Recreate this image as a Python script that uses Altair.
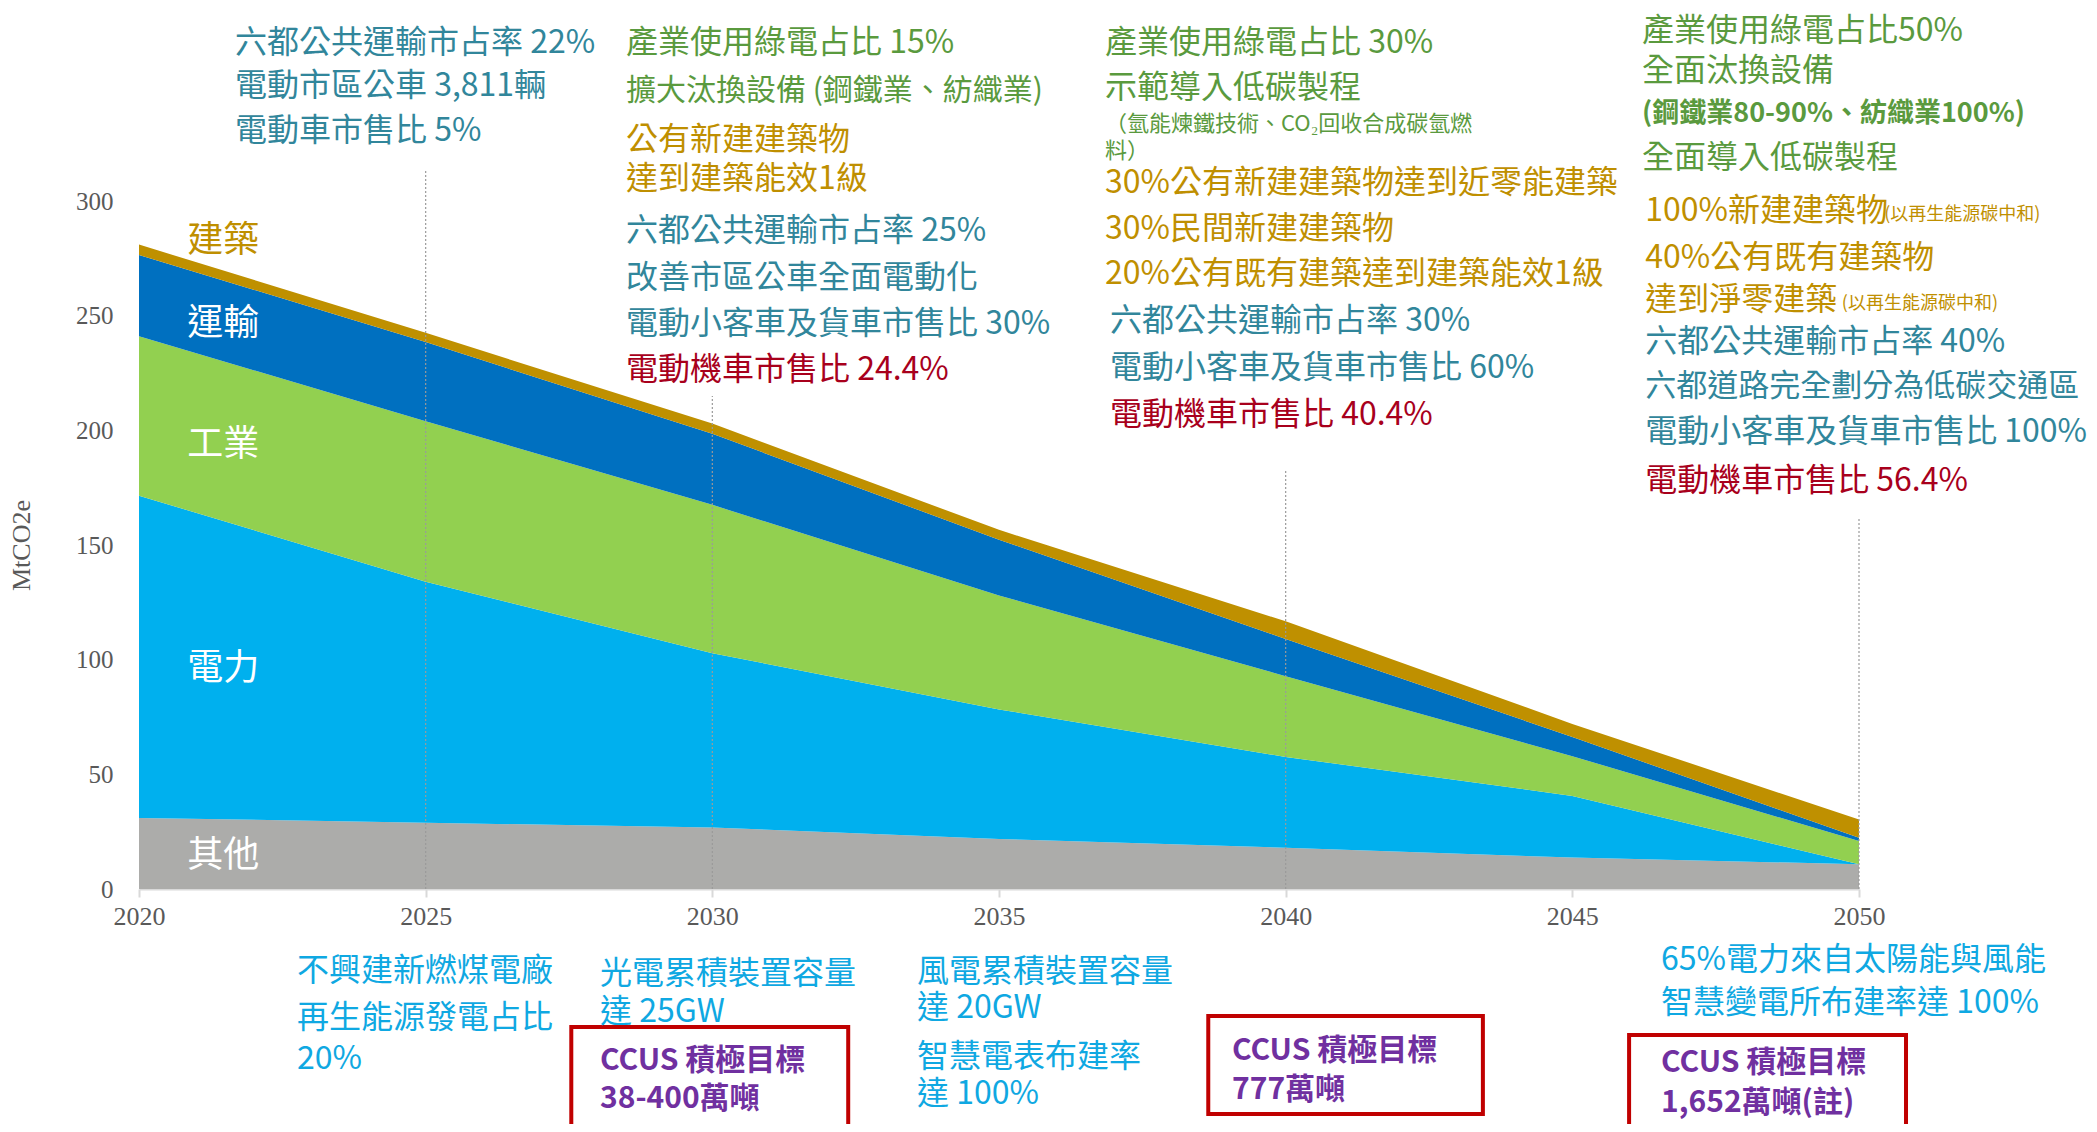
import altair as alt
import pandas as pd

# ---------------- data ----------------
years = [2020, 2025, 2030, 2035, 2040, 2045, 2050]
sectors = ["其他", "電力", "工業", "運輸", "建築"]
other = [31.0, 28.9, 26.8, 21.8, 18.0, 13.7, 10.8]
power = [140.5, 105.1, 76.0, 56.5, 39.6, 26.9, 0.0]
industry = [69.5, 70.0, 64.7, 49.7, 35.2, 17.3, 10.1]
transport = [35.5, 34.5, 31.0, 24.3, 16.2, 8.4, 1.4]
building = [4.5, 4.0, 4.5, 4.3, 7.7, 5.7, 8.0]
sector_colors = ["#ACACAA", "#00B0EE", "#92D050", "#0070C0", "#BF9000"]
y_ticks = [0, 50, 100, 150, 200, 250, 300]

# milestone guide lines (year, top value)
rule_years = [2025, 2030, 2040, 2050]
rule_tops = [313.5, 215.0, 182.3, 161.8]

series = {"其他": other, "電力": power, "工業": industry, "運輸": transport, "建築": building}
rows = []
for si, s in enumerate(sectors):
    for yr, v in zip(years, series[s]):
        rows.append({"year": yr, "sector": s, "value": v, "ord": si})
df = pd.DataFrame(rows)

CJK = "Noto Sans CJK TC"
SERIF = "Liberation Serif"
TEAL = "#31869B"
GREEN = "#5A9A3E"
GOLD = "#BF8F00"
RED = "#A8001C"
CYAN = "#0FA8E2"
PURPLE = "#7030A0"
GREYTXT = "#595959"

xs = alt.Scale(domain=[2020, 2050], nice=False, zero=False)
ys = alt.Scale(domain=[0, 300], nice=False, zero=True)

x_axis = alt.Axis(
    values=years, format="d", title=None, grid=False, labelFlush=False,
    domainColor="#D9D9D9", domainWidth=2, tickColor="#D9D9D9", tickWidth=2,
    tickSize=8, labelFont=SERIF, labelFontSize=26, labelColor=GREYTXT,
    labelPadding=6)
y_axis = alt.Axis(
    values=y_ticks, title="MtCO2e", grid=False, domain=False, ticks=False,
    labelFlush=False, labelFont=SERIF, labelFontSize=25, labelColor=GREYTXT,
    labelPadding=26, titleFont=SERIF, titleFontSize=26, titleFontWeight="normal",
    titleColor=GREYTXT, titleAngle=270, titleX=-118, titleY=344,
    titleAlign="center", titleBaseline="middle")

area = alt.Chart(df).mark_area(interpolate="linear").encode(
    x=alt.X("year:Q", scale=xs, axis=x_axis),
    y=alt.Y("value:Q", stack="zero", scale=ys, axis=y_axis),
    color=alt.Color("sector:N", scale=alt.Scale(domain=sectors, range=sector_colors), legend=None),
    order=alt.Order("ord:Q", sort="ascending"),
)

rules_df = pd.DataFrame({"x": rule_years, "y0": [0] * len(rule_years), "top": rule_tops})
rules = alt.Chart(rules_df).mark_rule(color="#9A9A9A", strokeDash=[2, 2], strokeWidth=1.2).encode(
    x=alt.X("x:Q", scale=xs, axis=x_axis),
    y=alt.Y("y0:Q", scale=ys, axis=y_axis),
    y2="top:Q",
)

# sector labels
lab_df = pd.DataFrame({
    "text": ["建築", "運輸", "工業", "電力", "其他"],
    "x": [2020.84] * 5,
    "y": [282.6, 246.4, 193.6, 95.9, 14.4],
    "color": [GOLD, "white", "white", "white", "white"],
})


def text_layer(items, size, weight="normal", font=CJK):
    d = pd.DataFrame(items, columns=["text", "x", "y", "color"])
    return alt.Chart(d).mark_text(align="left", baseline="middle", font=font,
                                  fontSize=size, fontWeight=weight).encode(
        x=alt.X("x:Q", scale=xs, axis=x_axis),
        y=alt.Y("y:Q", scale=ys, axis=y_axis),
        text="text:N",
        color=alt.Color("color:N", scale=None),
    )


labels = text_layer(lab_df.values.tolist(), 36)

# CCUS boxes
box_df = pd.DataFrame({
    "x": [2027.54, 2038.65, 2045.99],
    "x2": [2032.37, 2043.44, 2050.82],
    "y": [-60.2, -55.4, -63.7],
    "y2": [-103.8, -98.1, -108.1],
})
boxes = alt.Chart(box_df).mark_rect(filled=False, color="#C00000", strokeWidth=4).encode(
    x=alt.X("x:Q", scale=xs, axis=x_axis), x2="x2:Q",
    y=alt.Y("y:Q", scale=ys, axis=y_axis), y2="y2:Q",
)

main_txt = [
    ("六都公共運輸市占率 22%", 2021.674, 368.9, TEAL),
    ("電動市區公車 3,811輛", 2021.674, 350.1, TEAL),
    ("電動車市售比 5%", 2021.674, 330.5, TEAL),
    ("產業使用綠電占比 15%", 2028.494, 368.9, GREEN),
    ("公有新建建築物", 2028.494, 326.6, GOLD),
    ("達到建築能效1級", 2028.494, 309.6, GOLD),
    ("六都公共運輸市占率 25%", 2028.494, 286.9, TEAL),
    ("改善市區公車全面電動化", 2028.494, 266.4, TEAL),
    ("電動小客車及貨車市售比 30%", 2028.494, 246.4, TEAL),
    ("電動機車市售比 24.4%", 2028.494, 226.3, RED),
    ("產業使用綠電占比 30%", 2036.849, 368.9, GREEN),
    ("示範導入低碳製程", 2036.849, 349.2, GREEN),
    ("30%公有新建建築物達到近零能建築", 2036.849, 307.8, GOLD),
    ("30%民間新建建築物", 2036.849, 287.8, GOLD),
    ("20%公有既有建築達到建築能效1級", 2036.849, 268.2, GOLD),
    ("六都公共運輸市占率 30%", 2036.936, 247.7, TEAL),
    ("電動小客車及貨車市售比 60%", 2036.936, 227.2, TEAL),
    ("電動機車市售比 40.4%", 2036.936, 206.7, RED),
    ("產業使用綠電占比50%", 2046.215, 374.0, GREEN),
    ("全面汰換設備", 2046.215, 356.7, GREEN),
    ("全面導入低碳製程", 2046.215, 318.8, GREEN),
    ("100%新建建築物", 2046.27, 295.6, GOLD),
    ("40%公有既有建築物", 2046.27, 275.1, GOLD),
    ("達到淨零建築", 2046.27, 256.8, GOLD),
    ("六都公共運輸市占率 40%", 2046.27, 238.5, TEAL),
    ("電動小客車及貨車市售比 100%", 2046.27, 199.3, TEAL),
    ("電動機車市售比 56.4%", 2046.27, 177.9, RED),
    ("不興建新燃煤電廠", 2022.756, -35.8, CYAN),
    ("再生能源發電占比", 2022.756, -56.3, CYAN),
    ("20%", 2022.756, -74.1, CYAN),
    ("光電累積裝置容量", 2028.041, -37.1, CYAN),
    ("達 25GW", 2028.041, -53.6, CYAN),
    ("風電累積裝置容量", 2033.570, -36.2, CYAN),
    ("達 20GW", 2033.570, -51.9, CYAN),
    ("智慧電表布建率", 2033.570, -73.3, CYAN),
    ("達 100%", 2033.570, -89.4, CYAN),
    ("65%電力來自太陽能與風能", 2046.547, -31.0, CYAN),
    ("智慧變電所布建率達 100%", 2046.547, -49.7, CYAN),
]
edge_txt = [("六都道路完全劃分為低碳交通區", 2046.27, 218.9, TEAL)]
mid_txt = [("擴大汰換設備 (鋼鐵業、紡織業)", 2028.494, 348.0, GREEN)]
small_txt = [
    ("（氫能煉鐵技術、CO₂回收合成碳氫燃", 2036.849, 333.4, GREEN),
    ("料）", 2036.849, 321.6, GREEN),
]
bold_green = [("(鋼鐵業80-90%、紡織業100%)", 2046.215, 337.9, GREEN)]
tiny_txt = [
    ("(以再生能源碳中和)", 2050.44, 293.9, GOLD),
    ("(以再生能源碳中和)", 2049.70, 255.1, GOLD),
]
ccus_txt = [
    ("CCUS 積極目標", 2028.041, -75.0, PURPLE),
    ("38-400萬噸", 2028.041, -91.6, PURPLE),
    ("CCUS 積極目標", 2039.064, -70.6, PURPLE),
    ("777萬噸", 2039.064, -87.6, PURPLE),
    ("CCUS 積極目標", 2046.547, -75.9, PURPLE),
    ("1,652萬噸(註)", 2046.547, -93.3, PURPLE),
]

chart = alt.layer(
    area, rules, labels, boxes,
    text_layer(main_txt, 32),
    text_layer(edge_txt, 31),
    text_layer(mid_txt, 30),
    text_layer(small_txt, 22),
    text_layer(bold_green, 27, "bold"),
    text_layer(tiny_txt, 18),
    text_layer(ccus_txt, 30, "bold"),
).properties(
    width=1720, height=688,
    autosize=alt.AutoSizeParams(type="none"),
    padding={"left": 131, "top": 193, "right": 230, "bottom": 235},
).configure_view(stroke=None)

chart.save("out.html", embed_options={"renderer": "svg", "actions": False})
